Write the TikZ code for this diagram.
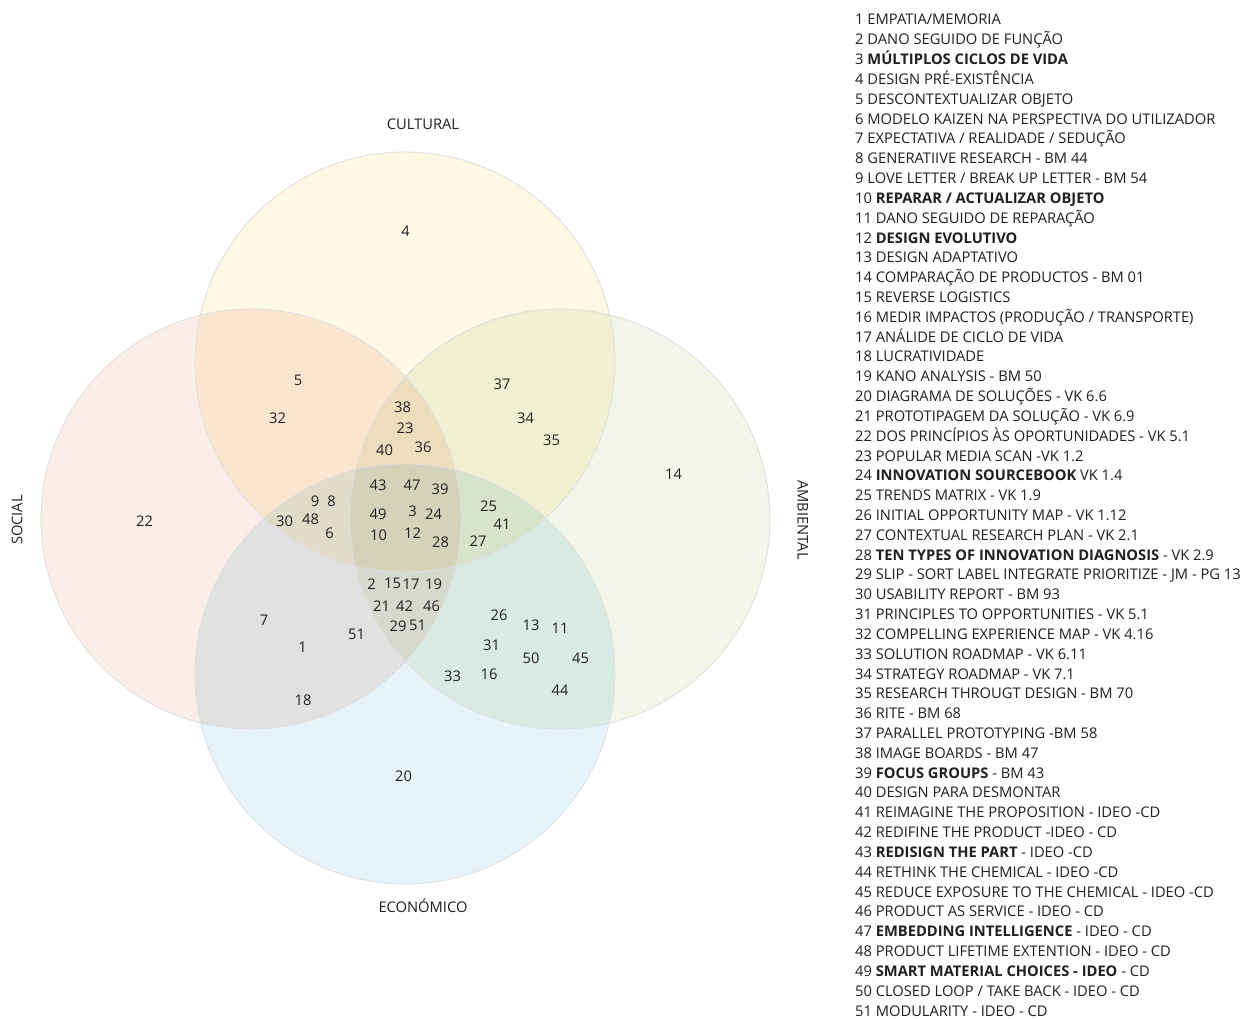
\documentclass[tikz,border=0pt]{standalone}
\usepackage{fontspec}
\setmainfont{Open Sans}
\begin{document}
\begin{tikzpicture}[x=1pt,y=-1pt,
  txt/.style={text=inkgray,font=\fontsize{14.7}{16}\selectfont,inner sep=0pt},
  num/.style={txt,anchor=center},
  item/.style={txt,anchor=base west},
  setlabel/.style={txt,anchor=center},
  ring/.style={draw=ringgray,line width=0.8pt}]
\definecolor{inkgray}{HTML}{231F20}
\definecolor{ringgray}{HTML}{DEDEDE}
\definecolor{culturalfill}{HTML}{FEF8E5}
\definecolor{socialfill}{HTML}{FBEDE7}
\definecolor{ambientalfill}{HTML}{F1F6E9}
\definecolor{economicofill}{HTML}{E6F3FA}
\useasboundingbox (0,0) rectangle (1242,1019);
\fill[white] (0,0) rectangle (1242,1019);

% the four sets, tinted so that overlaps darken
\begin{scope}[blend group=multiply]
  \fill[culturalfill]  (405,362) circle (210);
  \fill[socialfill]    (251,519) circle (210);
  \fill[ambientalfill] (560,519) circle (210);
  \fill[economicofill] (405,674) circle (210);
\end{scope}
\draw[ring] (405,362) circle (210);
\draw[ring] (251,519) circle (210);
\draw[ring] (560,519) circle (210);
\draw[ring] (405,674) circle (210);

% set names
\node[setlabel] (cultural) at (423,124.5) {CULTURAL};
\node[setlabel,rotate=90] (social) at (17,520) {SOCIAL};
\node[setlabel,rotate=-90] (ambiental) at (803,520) {AMBIENTAL};
\node[setlabel] (economico) at (423,906) {ECONÓMICO};

% method numbers placed in their regions
\foreach \n/\x/\y [count=\i] in {
  4/405.5/231, 5/298/380.5, 32/277.5/418, 37/502/384, 34/525.5/418, 35/551.5/440.5,
  14/673.5/474, 38/402.5/407.5, 23/405/428, 40/384.5/450, 36/423/447.5,
  43/378/485.5, 47/412/485.5, 39/440/489, 9/315/501, 8/331.5/501,
  30/284.5/521, 48/310.5/519, 6/329.5/533.5, 49/378/514, 3/412.5/511, 24/433.5/514,
  10/378.5/535.5, 12/412.5/533.5, 28/440.5/542, 25/488.5/506.5, 41/502/524.5, 27/478/541.5,
  22/144.5/521, 2/371.5/584.5, 15/392.5/583.5, 17/411/584.5, 19/433.5/584.5,
  21/381.5/606, 42/404.5/606, 46/431.5/606, 29/398/626.5, 51/417.5/625.5,
  7/264/620.5, 1/302.5/647.5, 51/356.5/634.5, 18/303/700.5,
  26/499/615, 13/531/625.5, 11/560/628.5, 31/491.5/645, 50/531/658.5, 45/580.5/658.5,
  33/452.5/676, 16/489/674, 44/560/690, 20/403.5/776}
  \node[num] (m\i) at (\x,\y) {\n};

% legend
\foreach \t [count=\i] in {
  {1 EMPATIA/MEMORIA},
  {2 DANO SEGUIDO DE FUNÇÃO},
  {3 \textbf{MÚLTIPLOS CICLOS DE VIDA}},
  {4 DESIGN PRÉ-EXISTÊNCIA},
  {5 DESCONTEXTUALIZAR OBJETO},
  {6 MODELO KAIZEN NA PERSPECTIVA DO UTILIZADOR},
  {7 EXPECTATIVA / REALIDADE / SEDUÇÃO},
  {8 GENERATIIVE RESEARCH - BM 44},
  {9 LOVE LETTER / BREAK UP LETTER - BM 54},
  {10 \textbf{REPARAR / ACTUALIZAR OBJETO}},
  {11 DANO SEGUIDO DE REPARAÇÃO},
  {12 \textbf{DESIGN EVOLUTIVO}},
  {13 DESIGN ADAPTATIVO},
  {14 COMPARAÇÃO DE PRODUCTOS - BM 01},
  {15 REVERSE LOGISTICS},
  {16 MEDIR IMPACTOS (PRODUÇÃO / TRANSPORTE)},
  {17 ANÁLIDE DE CICLO DE VIDA},
  {18 LUCRATIVIDADE},
  {19 KANO ANALYSIS - BM 50},
  {20 DIAGRAMA DE SOLUÇÕES - VK 6.6},
  {21 PROTOTIPAGEM DA SOLUÇÃO - VK 6.9},
  {22 DOS PRINCÍPIOS ÀS OPORTUNIDADES - VK 5.1},
  {23 POPULAR MEDIA SCAN -VK 1.2},
  {24 \textbf{INNOVATION SOURCEBOOK} VK 1.4},
  {25 TRENDS MATRIX - VK 1.9},
  {26 INITIAL OPPORTUNITY MAP - VK 1.12},
  {27 CONTEXTUAL RESEARCH PLAN - VK 2.1},
  {28 \textbf{TEN TYPES OF INNOVATION DIAGNOSIS} - VK 2.9},
  {29 SLIP - SORT LABEL INTEGRATE PRIORITIZE - JM - PG 13},
  {30 USABILITY REPORT - BM 93},
  {31 PRINCIPLES TO OPPORTUNITIES - VK 5.1},
  {32 COMPELLING EXPERIENCE MAP - VK 4.16},
  {33 SOLUTION ROADMAP - VK 6.11},
  {34 STRATEGY ROADMAP - VK 7.1},
  {35 RESEARCH THROUGT DESIGN - BM 70},
  {36 RITE - BM 68},
  {37 PARALLEL PROTOTYPING -BM 58},
  {38 IMAGE BOARDS - BM 47},
  {39 \textbf{FOCUS GROUPS} - BM 43},
  {40 DESIGN PARA DESMONTAR},
  {41 REIMAGINE THE PROPOSITION - IDEO -CD},
  {42 REDIFINE THE PRODUCT -IDEO - CD},
  {43 \textbf{REDISIGN THE PART} - IDEO -CD},
  {44 RETHINK THE CHEMICAL - IDEO -CD},
  {45 REDUCE EXPOSURE TO THE CHEMICAL - IDEO -CD},
  {46 PRODUCT AS SERVICE - IDEO - CD},
  {47 \textbf{EMBEDDING INTELLIGENCE} - IDEO - CD},
  {48 PRODUCT LIFETIME EXTENTION - IDEO - CD},
  {49 \textbf{SMART MATERIAL CHOICES - IDEO} - CD},
  {50 CLOSED LOOP / TAKE BACK - IDEO - CD},
  {51 MODULARITY - IDEO - CD}}
  \node[item] (l\i) at (855,{25+19.82*(\i-1)}) {\t};
\end{tikzpicture}
\end{document}
